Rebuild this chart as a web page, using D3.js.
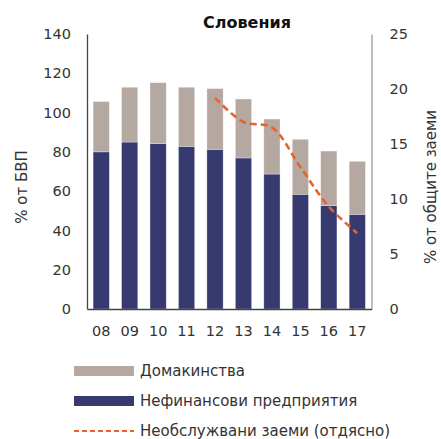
<!DOCTYPE html>
<html>
<head>
<meta charset="utf-8">
<script src="https://cdn.jsdelivr.net/npm/d3@7"></script>
<style>
  html, body { margin: 0; padding: 0; background: #fff; }
  svg { display: block; font-family: "DejaVu Sans", "Noto Sans", sans-serif; }
</style>
</head>
<body>
<svg id="chart" width="441" height="439"></svg>
<script>
// Years (last two digits)
const years = ["08", "09", "10", "11", "12", "13", "14", "15", "16", "17"];
// Non-financial corporations debt, % of GDP
const corporates = [80, 85, 84.2, 82.8, 81.3, 76.9, 68.7, 58.4, 52.6, 48.2];
// Household debt, % of GDP
const households = [25.6, 27.9, 31, 30.1, 30.9, 30, 28, 28, 27.8, 27];
// Non-performing loans, % of total loans (right axis), 2012 onwards
const nplYears = ["12", "13", "14", "15", "16", "17"];
const nplValues = [19.2, 17.0, 16.5, 12.9, 9.3, 6.9];
// Axis ticks
const leftTicks = [0, 20, 40, 60, 80, 100, 120, 140];
const rightTicks = [0, 5, 10, 15, 20, 25];

const colors = { households: "#B5A8A1", corporates: "#363A6F", npl: "#E8622C", text: "#333" };

const svg = d3.select("#chart");
const margin = { left: 87, right: 70, top: 34, bottom: 130 };
const W = 441, H = 439;
const x0 = margin.left, x1 = W - margin.right + 0.5;
const yTop = margin.top, yBot = H - margin.bottom;

const x = d3.scaleBand().domain(years).range([x0, x1]).paddingInner(0.43).paddingOuter(0.215);
const yL = d3.scaleLinear().domain([0, 140]).range([yBot, yTop]);
const yR = d3.scaleLinear().domain([0, 25]).range([yBot, yTop]);

// Stacked bars
const rows = years.map((yr, i) => ({ yr, corporates: corporates[i], households: households[i] }));
const stack = d3.stack().keys(["corporates", "households"])(rows);
svg.append("g").selectAll("g").data(stack).join("g")
  .attr("fill", d => colors[d.key])
  .selectAll("rect").data(d => d).join("rect")
  .attr("x", d => x(d.data.yr))
  .attr("width", x.bandwidth())
  .attr("y", d => yL(d[1]))
  .attr("height", d => yL(d[0]) - yL(d[1]))
  .attr("stroke", "#fff").attr("stroke-width", 0.6).attr("stroke-opacity", 0.5);

// Axes
const fontSize = 14.5;
const axL = svg.append("g").attr("transform", `translate(${x0},0)`)
  .call(d3.axisLeft(yL).tickValues(leftTicks).tickSize(0).tickPadding(16));
axL.select(".domain").attr("stroke", "#444").attr("stroke-width", 1.3);
const axR = svg.append("g").attr("transform", `translate(${x1},0)`)
  .call(d3.axisRight(yR).tickValues(rightTicks).tickSize(0).tickPadding(18));
axR.select(".domain").attr("stroke", "#999").attr("stroke-width", 1.3);
const axB = svg.append("g").attr("transform", `translate(0,${yBot})`)
  .call(d3.axisBottom(x).tickSize(0).tickPadding(17));
axB.select(".domain").attr("stroke", "#444").attr("stroke-width", 1.3);
svg.selectAll(".tick text").attr("font-size", fontSize).attr("fill", colors.text)
  .attr("font-family", "'DejaVu Sans', sans-serif");

// NPL line (right axis)
const line = d3.line().x((d, i) => x(nplYears[i]) + x.bandwidth() / 2).y(d => yR(d))
  .curve(d3.curveCatmullRom.alpha(0.5));
svg.append("path").datum(nplValues).attr("d", line)
  .attr("fill", "none").attr("stroke", colors.npl).attr("stroke-width", 2.6)
  .attr("stroke-dasharray", "7,4");

// Title
svg.append("text").attr("x", 247).attr("y", 28).attr("text-anchor", "middle")
  .attr("font-size", 16).attr("font-weight", "bold").attr("fill", "#111")
  .text("Словения");

// Axis titles
svg.append("text").attr("transform", `translate(27,187) rotate(-90)`)
  .attr("text-anchor", "middle").attr("font-size", 15).attr("fill", colors.text)
  .text("% от БВП");
svg.append("text").attr("transform", `translate(436,187) rotate(-90)`)
  .attr("text-anchor", "middle").attr("font-size", 15).attr("fill", colors.text)
  .text("% от общите заеми");

// Legend
const legend = [
  { label: "Домакинства", type: "rect", color: colors.households, y: 371 },
  { label: "Нефинансови предприятия", type: "rect", color: colors.corporates, y: 401 },
  { label: "Необслужвани заеми (отдясно)", type: "line", color: colors.npl, y: 431 }
];
const lg = svg.append("g");
legend.forEach(d => {
  if (d.type === "rect") {
    lg.append("rect").attr("x", 74).attr("y", d.y - 5).attr("width", 60).attr("height", 10).attr("fill", d.color);
  } else {
    lg.append("line").attr("x1", 74).attr("x2", 134).attr("y1", d.y).attr("y2", d.y)
      .attr("stroke", d.color).attr("stroke-width", 2).attr("stroke-dasharray", "5,3");
  }
  lg.append("text").attr("x", 140).attr("y", d.y).attr("dy", "0.35em")
    .attr("font-size", 15).attr("fill", colors.text).text(d.label);
});
</script>
</body>
</html>
